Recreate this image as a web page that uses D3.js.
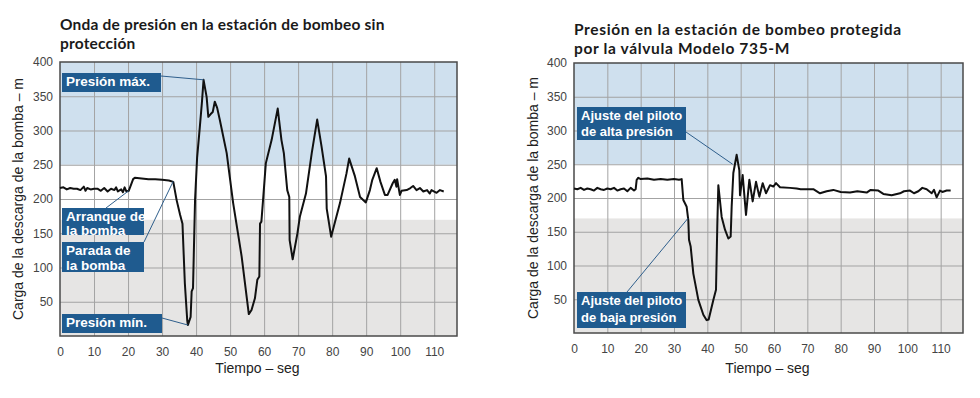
<!DOCTYPE html>
<html>
<head>
<meta charset="utf-8">
<script src="https://cdn.jsdelivr.net/npm/d3@7"></script>
<style>
  body { margin: 0; background: #fff; }
  .title { font-family: Lato, "Noto Sans", sans-serif; font-weight: 700; font-size: 15.5px; fill: #1a1a1a; }
  .tick text { font-family: "Liberation Sans", Arial, sans-serif; font-size: 12px; fill: #444; }
  .axis-title { font-family: "Liberation Sans", Arial, sans-serif; font-size: 14px; fill: #222; }
  .note { font-family: "Liberation Sans", Arial, sans-serif; font-weight: 700; fill: #fff; }
  .grid line { stroke: #a3a3a3; stroke-width: 1; }
  .grid .domain { display: none; }
</style>
</head>
<body>
<svg id="chart" width="980" height="398"></svg>
<script>
// Values
const xTicks = [0, 10, 20, 30, 40, 50, 60, 70, 80, 90, 100, 110];
const yTicks = [50, 100, 150, 200, 250, 300, 350, 400];
const bandLimits = [0, 170, 250, 400]; // grey, white, blue

// Left: pump station without protection
const unprotectedT = [0, 1, 2, 3, 4, 5, 6, 7, 7.5, 8, 9, 10, 11, 12, 13, 14, 15, 16, 16.5, 17, 18, 18.5, 19, 19.5, 20.2,
  21.5, 22, 24, 26, 28, 30, 32, 33.3, 34.3, 35.3, 36, 36.7, 37.4, 37.6, 38.4, 38.7, 39.1, 39.7, 40.3, 41.1, 41.7, 42.2,
  43.1, 43.6, 44.3, 44.9, 45.5, 46.2, 47, 49, 50.9, 53.4, 55.5, 56.3, 57.3, 58, 58.6, 58.8, 59.2, 59.7, 60.5, 62.2, 64,
  65.1, 65.8, 66.8, 67.4, 67.5, 68.4, 69.8, 70.5, 72.3, 74, 75.6, 76.9, 78.2, 78.4, 79.7, 82.3, 84.2, 85, 86.7, 88.2,
  89.9, 91.1, 91.8, 93.1, 94.2, 95.5, 96.3, 97.8, 98.4, 98.9, 99.1, 99.9, 100.4, 101.9, 103, 103.8, 104.8, 105.8, 106.8,
  107.9, 108.7, 109.2, 110.7, 111.7, 112.8];
const unprotectedHead = [216, 217, 214, 216, 215, 215, 213, 218, 212, 216, 214, 215, 215, 212, 216, 211, 215, 213, 217, 211, 214, 210, 217, 211, 212,
  229, 231, 230, 229, 229, 228, 227, 225, 198, 177, 164, 77, 23, 16, 28, 65, 70, 199, 260, 305, 340, 374,
  349, 320, 324, 327, 342, 333, 315, 267, 194, 116, 32, 38, 55, 82, 87, 164, 167, 199, 252, 286, 332,
  286, 267, 213, 203, 140, 112, 150, 174, 208, 267, 316, 276, 233, 186, 145, 194, 237, 259, 233, 203,
  195, 213, 228, 245, 225, 206, 206, 223, 228, 218, 229, 206, 212, 213, 216, 219, 213, 216, 211,
  213, 208, 213, 209, 213, 211];

// Right: pump station protected by the 735-M valve
const protectedT = [0, 1, 2, 3, 4, 5, 6, 7, 8, 9, 10, 11, 12, 13, 14, 15, 16, 17, 18, 18.5,
  18.8, 19.3, 20, 22, 24, 26, 28, 30, 31.5, 32.3, 32.8, 33.8, 34.3, 34.5, 35, 35.8, 37.3, 38.8, 39.8, 40.4, 41.8, 42.6,
  43, 43.3, 44.3, 45.3, 46.3, 47, 47.3, 47.8, 48.8, 49.6, 49.8, 50.6, 51.6, 52.6, 53.6, 54.6, 55.6, 56.6, 57.6, 58.8,
  59.8, 60.6, 61.8, 64.8, 66.8, 68, 71.8, 73.8, 75.8, 77.8, 80, 82.8, 85, 87.8, 89, 91.3, 92.8, 95.3, 97.8, 99, 100.8,
  102, 103.3, 104.5, 105.8, 107.3, 108, 108.8, 109.8, 110.5, 111.8, 113];
const protectedHead = [214, 213, 215, 212, 214, 213, 211, 215, 213, 212, 214, 213, 215, 211, 213, 214, 210, 215, 211, 213,
  227, 230, 228, 229, 227, 228, 227, 228, 227, 228, 197, 187, 167, 138, 128, 88, 49, 27, 19, 20, 49, 64,
  162, 219, 172, 153, 140, 143, 187, 237, 264, 241, 204, 234, 175, 227, 195, 224, 202, 222, 207, 219,
  217, 222, 216, 215, 214, 213, 213, 207, 210, 212, 209, 208, 210, 208, 212, 211, 206, 204, 207, 210, 211,
  207, 210, 215, 213, 207, 212, 201, 211, 209, 211, 211];

const unprotectedNotes = [
  { lines: ['Presión máx.'], t: 42.2, v: 374 },
  { lines: ['Arranque de', 'la bomba'], t: 20.2, v: 212 },
  { lines: ['Parada de', 'la bomba'], t: 33.3, v: 226 },
  { lines: ['Presión mín.'], t: 37.6, v: 16 }
];
const protectedNotes = [
  { lines: ['Ajuste del piloto', 'de alta presión'], t: 47.6, v: 250 },
  { lines: ['Ajuste del piloto', 'de baja presión'], t: 34.2, v: 170 }
];

const svg = d3.select('#chart');

function drawChart(opts) {
  const { left, right, top, bottom } = opts.area;
  const g = svg.append('g');

  const x = d3.scaleLinear().domain([0, 116.7]).range([left, right]);
  const y = d3.scaleLinear().domain([0, 400]).range([bottom, top]);

  // Background bands
  const bandColors = ['#e6e5e4', '#ffffff', '#cfe0ee'];
  g.selectAll('rect.band')
    .data(d3.pairs(bandLimits))
    .join('rect')
    .attr('class', 'band')
    .attr('x', left)
    .attr('width', right - left)
    .attr('y', (d) => y(d[1]))
    .attr('height', (d) => y(d[0]) - y(d[1]))
    .attr('fill', (d, i) => bandColors[i]);

  // Gridlines
  g.append('g')
    .attr('class', 'grid')
    .attr('transform', `translate(0, ${bottom})`)
    .call(d3.axisBottom(x).tickValues(xTicks.slice(1)).tickFormat('').tickSize(-(bottom - top)));
  g.append('g')
    .attr('class', 'grid')
    .attr('transform', `translate(${left}, 0)`)
    .call(d3.axisLeft(y).tickValues(yTicks.slice(0, -1)).tickFormat('').tickSize(-(right - left)));

  // Tick labels
  const xAxis = g.append('g')
    .attr('transform', `translate(0, ${bottom})`)
    .call(d3.axisBottom(x).tickValues(xTicks).tickSize(0).tickPadding(11));
  xAxis.select('.domain').remove();

  const yAxis = g.append('g')
    .attr('transform', `translate(${left}, 0)`)
    .call(d3.axisLeft(y).tickValues(yTicks).tickSize(0).tickPadding(7));
  yAxis.select('.domain').remove();

  // Frame
  g.append('rect')
    .attr('x', left)
    .attr('y', top)
    .attr('width', right - left)
    .attr('height', bottom - top)
    .attr('fill', 'none')
    .attr('stroke', '#4a4a4a')
    .attr('stroke-width', 1.5);

  // Curve
  const points = opts.t.map((t, i) => [t, opts.v[i]]);
  g.append('path')
    .datum(points)
    .attr('fill', 'none')
    .attr('stroke', '#111')
    .attr('stroke-width', 2)
    .attr('stroke-linejoin', 'round')
    .attr('d', d3.line().x((d) => x(d[0])).y((d) => y(d[1])));

  // Annotations
  opts.notes.forEach((note, i) => {
    const box = opts.boxes[i];
    g.append('line')
      .attr('x1', box.lx)
      .attr('y1', box.ly)
      .attr('x2', x(note.t))
      .attr('y2', y(note.v))
      .attr('stroke', '#2f5f8c')
      .attr('stroke-width', 1);
    g.append('rect')
      .attr('x', box.x)
      .attr('y', box.y)
      .attr('width', box.w)
      .attr('height', box.h)
      .attr('fill', '#1f5b8f');
    const text = g.append('text')
      .attr('class', 'note')
      .style('font-size', opts.noteSize + 'px');
    note.lines.forEach((line, j) => {
      text.append('tspan')
        .attr('x', box.x + 4)
        .attr('y', box.y + opts.noteSize - 0.5 + j * box.lh)
        .text(line);
    });
  });

  // Titles
  const title = g.append('text')
    .attr('class', 'title')
    .style('letter-spacing', opts.titleSpacing + 'px');
  opts.title.forEach((line, j) => {
    title.append('tspan')
      .attr('x', left)
      .attr('y', opts.titleY + j * 18.5)
      .text(line);
  });

  g.append('text')
    .attr('class', 'axis-title')
    .attr('text-anchor', 'middle')
    .attr('x', (left + right) / 2 - 1)
    .attr('y', 373)
    .text('Tiempo – seg');

  g.append('text')
    .attr('class', 'axis-title')
    .attr('text-anchor', 'middle')
    .attr('transform', `translate(${opts.yLabelX}, ${(top + bottom) / 2}) rotate(-90)`)
    .text('Carga de la descarga de la bomba – m');
}

drawChart({
  area: { left: 60, right: 457, top: 62, bottom: 336 },
  t: unprotectedT,
  v: unprotectedHead,
  notes: unprotectedNotes,
  boxes: [
    { x: 62, y: 73, w: 99, h: 19, lh: 0, lx: 161, ly: 76 },
    { x: 62, y: 208, w: 82, h: 27, lh: 13.5, lx: 106, ly: 208 },
    { x: 62, y: 242, w: 82, h: 30, lh: 14.5, lx: 144, ly: 242 },
    { x: 62, y: 314, w: 100, h: 19, lh: 0, lx: 162, ly: 318 }
  ],
  noteSize: 13.5,
  title: ['Onda de presión en la estación de bombeo sin', 'protección'],
  titleSpacing: 0.2,
  titleY: 30,
  yLabelX: 23
});

drawChart({
  area: { left: 574, right: 963, top: 63, bottom: 333 },
  t: protectedT,
  v: protectedHead,
  notes: protectedNotes,
  boxes: [
    { x: 577, y: 107, w: 109, h: 33, lh: 16, lx: 686, ly: 132 },
    { x: 577, y: 292, w: 109, h: 36, lh: 17, lx: 627, ly: 292 }
  ],
  noteSize: 13,
  title: ['Presión en la estación de bombeo protegida', 'por la válvula Modelo 735-M'],
  titleSpacing: 0.65,
  titleY: 35,
  yLabelX: 538
});
</script>
</body>
</html>
